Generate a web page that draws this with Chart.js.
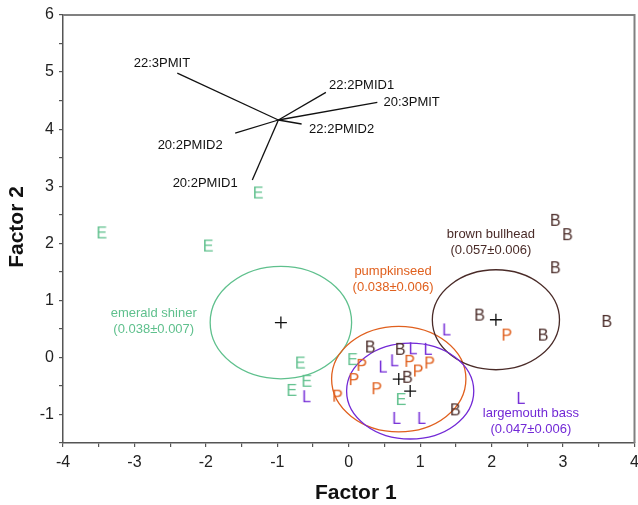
<!DOCTYPE html>
<html>
<head>
<meta charset="utf-8">
<script src="https://cdn.jsdelivr.net/npm/chart.js@4"></script>
<style>
  html, body { margin: 0; padding: 0; background: #fff; }
  #wrap { width: 638px; height: 505px; }
</style>
</head>
<body>
<div id="wrap"><canvas id="chart"></canvas></div>
<script>
// -------------------------------
// DONNEES
// -------------------------------
const emeraldX = [-1.27, -3.46, -1.97, -0.68, -0.59, -0.80, 0.05, 0.73];
const emeraldY = [2.89, 2.19, 1.96, -0.09, -0.41, -0.57, -0.03, -0.73];

const pumpkinX = [2.21, 0.18, 0.07, -0.16, 0.39, 0.85, 0.97, 1.13];
const pumpkinY = [0.40, -0.13, -0.38, -0.67, -0.54, -0.06, -0.23, -0.09];

const bullheadX = [2.89, 3.06, 2.89, 3.61, 1.83, 2.72, 0.30, 0.72, 0.82, 1.49];
const bullheadY = [2.41, 2.16, 1.58, 0.64, 0.75, 0.40, 0.19, 0.15, -0.34, -0.91];

const bassX = [-0.59, 1.37, 0.90, 1.11, 0.48, 0.64, 0.67, 1.02, 2.41];
const bassY = [-0.68, 0.49, 0.16, 0.15, -0.16, -0.05, -1.06, -1.06, -0.71];

// centroides + ellipses (ordre : emerald, pumpkinseed, bullhead, largemouth)
const groupNames = ["emerald shiner", "pumpkinseed", "brown bullhead", "largemouth bass"];
const groupStats = ["(0.038±0.007)", "(0.038±0.006)", "(0.057±0.006)", "(0.047±0.006)"];
const centroidX = [-0.95, 0.70, 2.06, 0.86];
const centroidY = [0.61, -0.38, 0.66, -0.59];
const ellipseRX = [0.99, 0.94, 0.89, 0.89];
const ellipseRY = [0.985, 0.925, 0.876, 0.84];
const groupLabelX = [-2.73, 0.62, 1.99, 2.55];
const groupLabelY = [0.77, 1.51, 2.16, -0.98];

// vecteurs des acides gras
const vectorOrigin = [-0.985, 4.16];
const vectorNames = ["22:3PMIT", "22:2PMID1", "20:3PMIT", "22:2PMID2", "20:2PMID2", "20:2PMID1"];
const vectorEndX = [-2.40, -0.32, 0.40, -0.66, -1.59, -1.35];
const vectorEndY = [4.98, 4.645, 4.47, 4.09, 3.93, 3.11];
const vectorLabelX = [-2.615, 0.18, 0.88, -0.10, -2.22, -2.01];
const vectorLabelY = [5.15, 4.76, 4.47, 3.99, 3.71, 3.04];

const COLORS = {
  emerald: '#5fc08d',
  pumpkin: '#e0601e',
  bullhead: '#4a2b28',
  bass: '#7229d6'
};
const groupColors = [COLORS.emerald, COLORS.pumpkin, COLORS.bullhead, COLORS.bass];
const FONT = '"Liberation Sans", Arial, sans-serif';

// Helper : lettre comme symbole de point
function letterIcon(ch, color) {
  const c = document.createElement('canvas');
  c.width = 20; c.height = 20;
  const g = c.getContext('2d');
  g.font = '16px ' + FONT;
  g.fillStyle = color;
  g.textAlign = 'center';
  g.textBaseline = 'alphabetic';
  g.fillText(ch, 10, 15.7);
  return c;
}

function toPoints(xs, ys) {
  return xs.map((x, i) => ({ x: x, y: ys[i] }));
}

function letterDataset(xs, ys, ch, color) {
  return {
    data: toPoints(xs, ys),
    pointStyle: letterIcon(ch, color),
    pointRadius: 10,
    showLine: false
  };
}

const datasets = [
  letterDataset(emeraldX, emeraldY, 'E', COLORS.emerald),
  letterDataset(pumpkinX, pumpkinY, 'P', COLORS.pumpkin),
  letterDataset(bullheadX, bullheadY, 'B', COLORS.bullhead),
  letterDataset(bassX, bassY, 'L', COLORS.bass),
  {
    data: toPoints(centroidX, centroidY),
    pointStyle: 'cross',
    pointRadius: 6,
    borderColor: '#111',
    borderWidth: 1.3,
    showLine: false
  }
];

vectorNames.forEach((n, i) => {
  datasets.push({
    data: [{ x: vectorOrigin[0], y: vectorOrigin[1] }, { x: vectorEndX[i], y: vectorEndY[i] }],
    showLine: true,
    borderColor: '#111',
    borderWidth: 1.3,
    pointRadius: 0
  });
});

// Plugin : ellipses, etiquettes, cadre et titres
const decorPlugin = {
  id: 'decor',
  beforeDatasetsDraw(chart) {
    const { ctx, scales: { x, y } } = chart;
    ctx.save();
    ctx.lineWidth = 1.3;
    centroidX.forEach((cx, i) => {
      const px = x.getPixelForValue(cx);
      const py = y.getPixelForValue(centroidY[i]);
      const rx = Math.abs(x.getPixelForValue(cx + ellipseRX[i]) - px);
      const ry = Math.abs(y.getPixelForValue(centroidY[i] + ellipseRY[i]) - py);
      ctx.strokeStyle = groupColors[i];
      ctx.beginPath();
      ctx.ellipse(px, py, rx, ry, 0, 0, Math.PI * 2);
      ctx.stroke();
    });
    ctx.restore();
  },
  afterDatasetsDraw(chart) {
    const { ctx, chartArea, scales: { x, y } } = chart;
    ctx.save();
    ctx.textAlign = 'center';
    ctx.textBaseline = 'middle';

    // etiquettes des groupes
    ctx.font = '13px ' + FONT;
    groupNames.forEach((n, i) => {
      const px = x.getPixelForValue(groupLabelX[i]);
      const py = y.getPixelForValue(groupLabelY[i]);
      ctx.fillStyle = groupColors[i];
      ctx.fillText(n, px, py);
      ctx.fillText(groupStats[i], px, py + 16);
    });

    // etiquettes des vecteurs
    ctx.fillStyle = '#111';
    vectorNames.forEach((n, i) => {
      ctx.fillText(n, x.getPixelForValue(vectorLabelX[i]), y.getPixelForValue(vectorLabelY[i]));
    });

    // cadre haut et droite
    ctx.strokeStyle = '#808080';
    ctx.lineWidth = 2;
    ctx.beginPath();
    ctx.moveTo(chartArea.left, chartArea.top);
    ctx.lineTo(chartArea.right, chartArea.top);
    ctx.lineTo(chartArea.right, chartArea.bottom);
    ctx.stroke();

    // titres des axes
    ctx.fillStyle = '#111';
    ctx.font = 'bold 21px ' + FONT;
    ctx.fillText('Factor 1', (chartArea.left + chartArea.right) / 2 + 7, chartArea.bottom + 50);
    ctx.translate(17, (chartArea.top + chartArea.bottom) / 2 - 2);
    ctx.rotate(-Math.PI / 2);
    ctx.fillText('Factor 2', 0, 0);
    ctx.restore();
  }
};

const tickCb = v => Number.isInteger(v) ? String(v) : '';

new Chart(document.getElementById('chart').getContext('2d'), {
  type: 'scatter',
  data: { datasets: datasets },
  plugins: [decorPlugin],
  options: {
    responsive: true,
    maintainAspectRatio: false,
    animation: false,
    events: [],
    layout: { autoPadding: false, padding: { top: 15, right: 3.5, left: 0, bottom: 0 } },
    plugins: {
      legend: { display: false },
      tooltip: { enabled: false }
    },
    scales: {
      x: {
        type: 'linear',
        min: -4,
        max: 4,
        afterFit: s => { s.height = 62; s.paddingLeft = 0; s.paddingRight = 0; },
        border: { display: true, color: '#555', width: 1.5 },
        grid: { drawOnChartArea: false, drawTicks: true, tickLength: 4, color: '#555', lineWidth: 1.2 },
        ticks: {
          stepSize: 0.5,
          autoSkip: false,
          maxRotation: 0,
          padding: 6,
          color: '#222',
          font: { family: FONT, size: 16 },
          callback: tickCb
        }
      },
      y: {
        type: 'linear',
        min: -1.5,
        max: 6,
        afterFit: s => { s.width = 63; s.paddingTop = 0; s.paddingBottom = 0; },
        border: { display: true, color: '#555', width: 1.5 },
        grid: { drawOnChartArea: false, drawTicks: true, tickLength: 4, color: '#555', lineWidth: 1.2 },
        ticks: {
          stepSize: 0.5,
          autoSkip: false,
          padding: 5,
          color: '#222',
          font: { family: FONT, size: 16 },
          callback: tickCb
        }
      }
    }
  }
});
</script>
</body>
</html>
